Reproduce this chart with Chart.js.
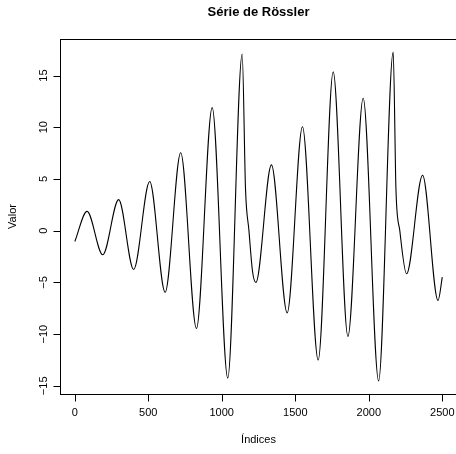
<!DOCTYPE html>
<html>
<head>
<meta charset="utf-8">
<script src="https://cdn.jsdelivr.net/npm/chart.js@4/dist/chart.umd.min.js"></script>
<style>
  html, body { margin: 0; padding: 0; background: #fff; overflow: hidden; }
  canvas { display: block; }
</style>
</head>
<body>
<canvas id="serie" width="458" height="454"></canvas>
<script>
// Rössler series: indices and values at its turning points (plus the shoulders after the two tallest peaks)
const indices = [
  1, 84, 191, 299, 401, 510, 615, 721, 828, 935,
  1041, 1139, 1162, 1185, 1209, 1232, 1338, 1445, 1549, 1656,
  1758, 1858, 1962, 2067, 2166, 2185, 2211, 2257, 2366, 2471,
  2500
];
const values = [
  -1.04, 1.87, -2.33, 3.0, -3.75, 4.75, -5.95, 7.53, -9.45, 11.9,
  -14.26, 17.07, 3.9, 0, -3.9, -5.01, 6.36, -7.95, 10.05, -12.51,
  15.35, -10.22, 12.8, -14.52, 17.26, 3.9, 0, -4.17, 5.36, -6.76,
  -4.5
];
const xTicks = [0, 500, 1000, 1500, 2000, 2500];
const yTicks = [-15, -10, -5, 0, 5, 10, 15];

const TITLE = 'Série de Rössler';
const XLABEL = 'Índices';
const YLABEL = 'Valor';

const FONT = '"Liberation Sans", Arial, sans-serif';

// R-style frame, axes and labels
const rAxes = {
  id: 'rAxes',
  afterDraw(chart) {
    const ctx = chart.ctx;
    const a = chart.chartArea;
    const xs = chart.scales.x;
    const ys = chart.scales.y;
    ctx.save();
    ctx.strokeStyle = '#000';
    ctx.lineWidth = 1;
    ctx.fillStyle = '#000';

    const L = Math.round(a.left) + 0.5;
    const T = Math.round(a.top) + 0.5;
    const B = Math.round(a.bottom) + 0.5;
    const R = Math.round(a.right) + 0.5;
    ctx.strokeRect(L, T, R - L, B - T);

    // x axis
    const x0 = Math.round(xs.getPixelForValue(xTicks[0])) + 0.5;
    const x1 = Math.round(xs.getPixelForValue(xTicks[xTicks.length - 1])) + 0.5;
    ctx.beginPath();
    ctx.moveTo(x0, B);
    ctx.lineTo(x1, B);
    xTicks.forEach(v => {
      const px = Math.round(xs.getPixelForValue(v)) + 0.5;
      ctx.moveTo(px, B);
      ctx.lineTo(px, B + 7);
    });
    ctx.stroke();
    ctx.font = '11px ' + FONT;
    ctx.textAlign = 'center';
    ctx.textBaseline = 'middle';
    xTicks.forEach(v => {
      ctx.fillText(String(v), xs.getPixelForValue(v), B + 18);
    });

    // y axis
    const y0 = Math.round(ys.getPixelForValue(yTicks[0])) + 0.5;
    const y1 = Math.round(ys.getPixelForValue(yTicks[yTicks.length - 1])) + 0.5;
    ctx.beginPath();
    ctx.moveTo(L, y0);
    ctx.lineTo(L, y1);
    yTicks.forEach(v => {
      const py = Math.round(ys.getPixelForValue(v)) + 0.5;
      ctx.moveTo(L, py);
      ctx.lineTo(L - 7, py);
    });
    ctx.stroke();
    yTicks.forEach(v => {
      ctx.save();
      ctx.translate(L - 17, ys.getPixelForValue(v));
      ctx.rotate(-Math.PI / 2);
      ctx.fillText(String(v).replace('-', '\u2212'), 0, 0);
      ctx.restore();
    });

    // titles
    const cx = (a.left + a.right) / 2;
    const cy = (a.top + a.bottom) / 2;
    ctx.fillText(XLABEL, cx, B + 45);
    ctx.save();
    ctx.translate(13, cy);
    ctx.rotate(-Math.PI / 2);
    ctx.fillText(YLABEL, 0, 0);
    ctx.restore();
    ctx.font = 'bold 13px ' + FONT;
    ctx.fillText(TITLE, cx, 12);
    ctx.restore();
  }
};

const points = indices.map((x, i) => ({ x: x, y: values[i] }));

new Chart(document.getElementById('serie'), {
  type: 'line',
  data: {
    datasets: [{
      data: points,
      borderColor: '#000',
      borderWidth: 1.1,
      pointRadius: 0,
      cubicInterpolationMode: 'monotone',
      fill: false
    }]
  },
  options: {
    responsive: false,
    animation: false,
    layout: { padding: { left: 60, right: 1, top: 39, bottom: 60 } },
    plugins: { legend: { display: false }, tooltip: { enabled: false } },
    scales: {
      x: { type: 'linear', min: -100, max: 2600, display: false },
      y: { type: 'linear', min: -15.79, max: 18.53, display: false }
    }
  },
  plugins: [rAxes]
});
</script>
</body>
</html>
